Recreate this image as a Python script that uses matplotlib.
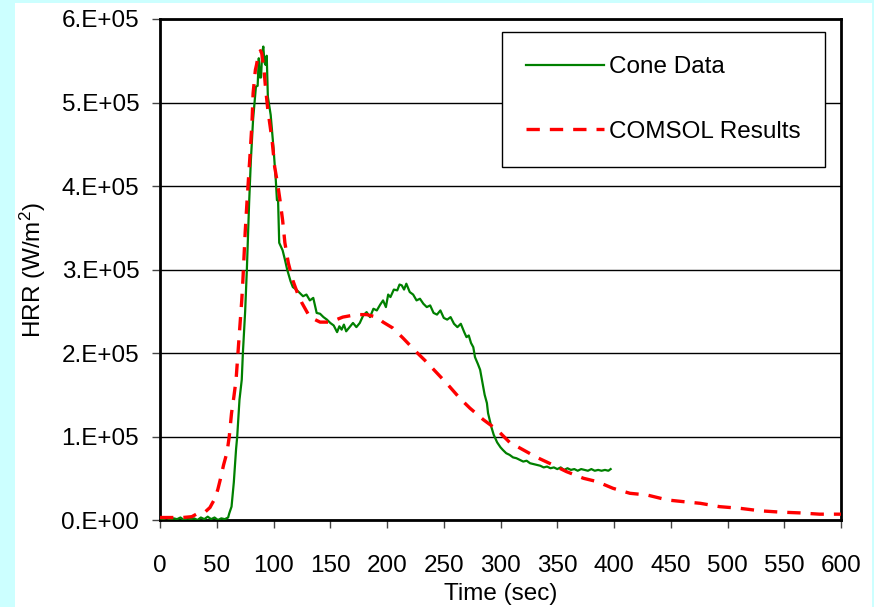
import matplotlib
matplotlib.use("Agg")
import matplotlib.pyplot as plt
from matplotlib.patches import Rectangle

plt.rcParams['font.family'] = ['Liberation Sans', 'DejaVu Sans']
plt.rcParams['mathtext.fontset'] = 'custom'
plt.rcParams['mathtext.rm'] = 'Liberation Sans'
plt.rcParams['mathtext.it'] = 'Liberation Sans:italic'

# Cone calorimeter data (time s, HRR in kW/m2)
cone_time = [0, 3, 6, 9, 12, 15, 18, 21, 24, 27, 30, 33, 36, 39, 42, 45, 48, 51, 54, 57,
             60, 61, 63, 65, 67, 68, 70, 72, 73, 75, 76.5, 78.5, 80, 82, 84.5, 86, 87, 88, 89,
             90, 91, 92, 93, 94, 95, 97.5, 100, 102, 103, 104, 105, 108, 110, 112, 115, 117,
             120, 123, 126, 129, 132, 135, 138, 141, 144, 147, 150, 153, 156, 158, 160, 162,
             164, 167, 170, 173, 176, 179, 182, 185, 188, 191, 194, 196.5, 199, 201, 203, 206,
             209, 211, 213, 215, 217, 220, 223, 226, 229, 232, 235, 238, 241, 244, 247, 250,
             253, 256, 259, 262, 265, 268, 270, 272, 274, 276, 277.5, 280, 282, 284, 286, 288,
             289, 292, 294, 297, 300, 302, 305, 308, 311, 314, 317, 320, 323, 326, 329, 332,
             335, 338, 341, 344, 347, 350, 353, 356, 359, 362, 365, 368, 371, 374, 377, 380,
             383, 386, 389, 392, 395, 397]
cone_hrr = [2, 1, 3, 0, 2, 1, 3, 0, 2, 1, 2, 0, 3, 1, 4, 1, 3, 0, 2, 1,
            3, 8, 16, 45, 85, 100, 144, 168, 200, 250, 300, 380, 430, 480, 519, 520, 553, 530, 530,
            560, 567, 548, 545, 556, 507, 485, 445, 407, 383, 383, 332, 323, 312, 300, 286, 279,
            276, 272, 268, 270, 263, 266, 248, 247, 243, 240, 236, 233, 225, 232, 228, 234,
            226, 231, 236, 231, 236, 245, 249, 243, 253, 251, 258, 263, 255, 270, 267, 276,
            275, 282, 281, 276, 283, 273, 270, 263, 265, 259, 255, 257, 248, 246, 251, 242,
            240, 243, 235, 231, 235, 225, 219, 221, 212, 207, 195, 187, 180, 165, 150, 140,
            128, 111, 102, 93, 87, 84, 80, 78, 75, 74, 72, 70, 71, 68, 67, 66,
            65, 63, 64, 62, 63, 61, 63, 60, 62, 60, 61, 59, 61, 60, 59, 61,
            59, 60, 59, 60, 59, 61]

# COMSOL model results (time s, HRR in kW/m2)
comsol_time = [0, 10, 20, 28, 32, 35, 40, 44, 46, 48.5, 51, 53, 56, 59, 61, 63, 65, 67, 69.5,
               72, 73, 75, 76.7, 79, 81, 82, 84, 85, 87, 88.5, 89.6, 91.6, 93, 95, 98.7, 101,
               104, 105.7, 108, 110, 113, 117, 121, 125, 132, 141, 150, 161, 173, 182, 191,
               196.5, 205, 214, 226, 235, 244, 253, 264, 273, 285, 297, 308, 320, 332, 343,
               358, 373, 385, 399, 414, 429, 447, 461, 476, 493, 511, 529, 546, 564, 581, 600]
comsol_hrr = [3, 3, 3, 4, 7, 8, 10, 15, 20, 26, 37, 48, 66, 81, 100, 128, 147, 168, 216,
              263, 287, 344, 383, 431, 475, 511, 539, 545, 560, 562, 559, 539, 517, 491, 455, 423,
              399, 383, 359, 332, 308, 287, 272, 260, 243, 237, 237, 243, 246, 246, 243,
              237, 230, 218, 201, 189, 176, 163, 146, 134, 120, 108, 93, 84, 75, 68,
              58, 50, 46, 38, 32, 30, 24, 22, 20, 16, 14, 11, 9.5, 8.5, 7, 7]

x_ticks = [0, 50, 100, 150, 200, 250, 300, 350, 400, 450, 500, 550, 600]
y_ticks = [0, 1e5, 2e5, 3e5, 4e5, 5e5, 6e5]
y_tick_labels = ['0.E+00', '1.E+05', '2.E+05', '3.E+05', '4.E+05', '5.E+05', '6.E+05']

fig = plt.figure(figsize=(8.74, 6.07), dpi=100)
fig.patch.set_facecolor('#CCFFFF')
fig.patches.append(Rectangle((15 / 874, 0), 857 / 874, 604 / 607, transform=fig.transFigure,
                             facecolor='white', edgecolor='none', zorder=-5))

ax = fig.add_axes([0.1831, 0.1433, 0.7792, 0.8254])
ax.plot(cone_time, [v * 1000 for v in cone_hrr], color='#008000', lw=1.6, label='Cone Data', zorder=3)
ax.plot(comsol_time, [v * 1000 for v in comsol_hrr], color='#FF0000', lw=2.4,
        dashes=(4, 3), label='COMSOL Results', zorder=4)

ax.set_xlim(0, 600)
ax.set_ylim(0, 6e5)
ax.set_xticks(x_ticks)
ax.set_yticks(y_ticks)
ax.set_yticklabels(y_tick_labels)
ax.yaxis.grid(True, color='black', lw=1)
ax.set_axisbelow(True)
for sp in ax.spines.values():
    sp.set_linewidth(2)
    sp.set_color('black')
ax.tick_params(axis='x', length=6, width=1, pad=19, labelsize=17.5, color='#444444')
ax.tick_params(axis='y', length=6, width=1, pad=9, labelsize=17.5, color='#444444')

ax.set_xlabel('Time (sec)', fontsize=17.5)
ax.set_ylabel('HRR (W/m$^2$)', fontsize=17.5)
ax.xaxis.label.set_va('center')
ax.xaxis.set_label_coords(0.5, -0.1477)
ax.yaxis.label.set_va('center')
ax.yaxis.set_label_coords(-0.1865, 0.5)

leg = ax.legend(loc='upper right', bbox_to_anchor=(0.9765, 0.974), borderaxespad=0,
                fontsize=17.5, handlelength=3.2, handletextpad=0.2, labelspacing=1.75,
                borderpad=1.0, fancybox=False, shadow=False, framealpha=1)
leg.get_frame().set_edgecolor('black')
leg.get_frame().set_linewidth(1)

fig.savefig('out.png', dpi=100, facecolor=fig.get_facecolor())
